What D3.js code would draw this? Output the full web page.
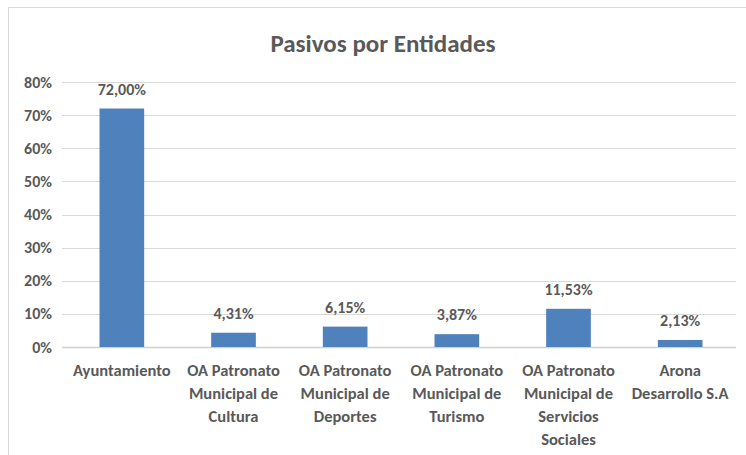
<!DOCTYPE html>
<html>
<head>
<meta charset="utf-8">
<script src="https://cdn.jsdelivr.net/npm/d3@7"></script>
<style>
  body { margin: 0; background: #fff; }
  text { font-family: Carlito, Lato, sans-serif; font-weight: bold; fill: #595959; }
</style>
</head>
<body>
<div id="chart"></div>
<script>
(function(){

    var categories = [
        ["Ayuntamiento"],
        ["OA Patronato", "Municipal de", "Cultura"],
        ["OA Patronato", "Municipal de", "Deportes"],
        ["OA Patronato", "Municipal de", "Turismo"],
        ["OA Patronato", "Municipal de", "Servicios", "Sociales"],
        ["Arona", "Desarrollo S.A"]
    ];
    var values = [72.00, 4.31, 6.15, 3.87, 11.53, 2.13];
    var yTicks = [0, 10, 20, 30, 40, 50, 60, 70, 80];

    var W = 746, H = 455;
    var margin = {top: 82, left: 66},
      width = 736 - margin.left,
      height = 347 - margin.top;

    var svg = d3.select("#chart").append("svg")
      .attr("width", W)
      .attr("height", H);

    // chart frame
    svg.append("rect")
      .attr("x", 8.5).attr("y", 7.5)
      .attr("width", W).attr("height", H)
      .attr("fill", "none")
      .attr("stroke", "#d9d9d9");

    svg.append("text")
      .attr("x", 383)
      .attr("y", 52)
      .attr("text-anchor", "middle")
      .style("font-size", "25px")
      .text("Pasivos por Entidades");

    var g = svg.append("g")
      .attr("transform", "translate(" + margin.left + "," + margin.top + ")");

    var x = d3.scaleBand()
      .domain(d3.range(categories.length))
      .range([0, width])
      .paddingInner(0.6)
      .paddingOuter(0.3);

    var y = d3.scaleLinear().domain([0, 80]).range([height, 0]);

    // gridlines
    g.append("g")
      .selectAll("line")
      .data(yTicks)
      .enter().append("line")
      .attr("x1", -4).attr("x2", width)
      .attr("y1", function(d) { return Math.round(y(d)) + 0.5; })
      .attr("y2", function(d) { return Math.round(y(d)) + 0.5; })
      .attr("stroke", function(d) { return d === 0 ? "#d0d0d0" : "#d9d9d9"; })
      .attr("stroke-width", function(d) { return d === 0 ? 1.5 : 1; });

    // y tick labels
    g.append("g")
      .selectAll("text")
      .data(yTicks)
      .enter().append("text")
      .attr("x", -14)
      .attr("y", function(d) { return y(d); })
      .attr("dy", "0.35em")
      .attr("text-anchor", "end")
      .style("font-size", "16px")
      .text(function(d) { return d + "%"; });

    // bars
    g.append("g")
      .selectAll("rect")
      .data(values)
      .enter().append("rect")
      .attr("x", function(d, i) { return x(i); })
      .attr("y", function(d) { return y(d); })
      .attr("width", x.bandwidth())
      .attr("height", function(d) { return height - y(d); })
      .attr("fill", "#4f81bd");

    // value labels
    g.append("g")
      .selectAll("text")
      .data(values)
      .enter().append("text")
      .attr("x", function(d, i) { return x(i) + x.bandwidth() / 2; })
      .attr("y", function(d) { return y(d) - 14; })
      .attr("text-anchor", "middle")
      .style("font-size", "16px")
      .text(function(d) { return d.toFixed(2).replace(".", ",") + "%"; });

    // category labels
    var cat = g.append("g")
      .selectAll("text")
      .data(categories)
      .enter().append("text")
      .attr("x", function(d, i) { return x(i) + x.bandwidth() / 2; })
      .attr("y", height + 29)
      .attr("text-anchor", "middle")
      .style("font-size", "16.5px");

    cat.selectAll("tspan")
      .data(function(d) { return d; })
      .enter().append("tspan")
      .attr("x", function() { return d3.select(this.parentNode).attr("x"); })
      .attr("dy", function(d, i) { return i === 0 ? 0 : 23; })
      .text(function(d) { return d; });

})();
</script>
</body>
</html>
